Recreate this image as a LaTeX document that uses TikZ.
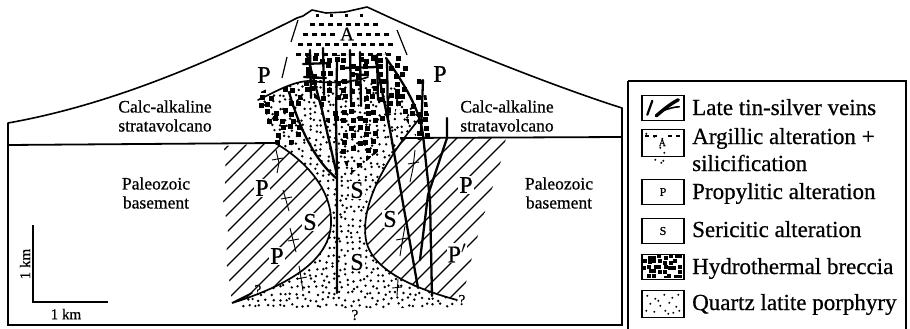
\documentclass[tikz,border=0pt]{standalone}
\usepackage{fontspec}
\setmainfont{Liberation Serif}[FakeBold=0.6]
\begin{document}
\begin{tikzpicture}[x=1pt,y=-1pt,
  outline/.style={line width=1.6pt, line join=round},
  contact/.style={line width=1.8pt},
  vein/.style={line width=2.3pt, line cap=round, line join=round},
  zoneline/.style={line width=1.7pt, line cap=round},
  hatchline/.style={line width=1.1pt},
  tickline/.style={line width=0.9pt},
  lbl/.style={font=\fontsize{24}{24}\selectfont, inner sep=1pt},
  qmark/.style={font=\fontsize{15}{15}\selectfont, inner sep=0pt},
  unit/.style={font=\fontsize{17.5}{19}\selectfont, align=center, inner sep=0pt},
  legtext/.style={font=\fontsize{23}{23}\selectfont, anchor=base west, inner sep=0pt},
  swatch/.style={draw, line width=1.4pt, minimum width=42pt, minimum height=25pt, inner sep=0pt},
]
\useasboundingbox (0,0) rectangle (910,329);
\pgfmathsetseed{7}

% ---------- porphyry stock (dots) ----------
\begin{scope}
  \clip (262,100) .. controls (280,86) and (300,80) .. (330,80)
        .. controls (355,80) and (380,78) .. (395,88) -- (420,118)
        .. controls (385,160) and (360,205) .. (366,240)
        .. controls (372,272) and (420,290) .. (457,300)
        -- (455,308) -- (240,308) -- (232,303)
        .. controls (300,282) and (329,255) .. (331,225)
        .. controls (333,190) and (305,160) .. (275,143) -- cycle;
  \foreach \i in {0,...,38}{
    \foreach \j in {0,...,38}{
      \pgfmathsetmacro{\px}{229+6.2*\i+2.2*rand}
      \pgfmathsetmacro{\py}{76+6.2*\j+2.2*rand}
      \fill (\px,\py) circle[radius=1.35pt];
    }
  }
\end{scope}

% ---------- hydrothermal breccia (squares) ----------
\begin{scope}
  \clip (256,95) .. controls (270,85) and (290,82) .. (300,88) -- (306,110)
        -- (302,140) -- (290,146) -- (277,145) .. controls (265,130) and (258,110) .. cycle
        (298,55) -- (397,55) -- (400,100) -- (380,150) -- (350,175) -- (335,140)
        -- (318,100) -- (300,90) -- cycle
        (385,52) -- (405,56) -- (425,85) -- (432,138) -- (418,140) -- (400,110) -- cycle;
  \foreach \i in {0,...,26}{
    \foreach \j in {0,...,17}{
      \pgfmathsetmacro{\px}{252+7.5*\i+1.8*rand}
      \pgfmathsetmacro{\py}{50+7.5*\j+1.8*rand}
      \pgfmathsetmacro{\keep}{rnd}
      \ifdim\keep pt<0.62pt
        \fill (\px,\py) rectangle ++(5,5);
      \fi
    }
  }
\end{scope}

% ---------- argillic alteration (dashes) ----------
\foreach \yy/\xa/\xb in {24/310/374, 34/303/384, 44/298/388, 54/296/392}{
  \foreach \xx in {\xa,...,\xb}{
    \pgfmathtruncatemacro{\m}{mod(\xx-\xa,9)}
    \ifnum\m=0
      \ifdim\xx pt>338pt \ifdim\xx pt<356pt \ifnum\yy=34 \else
        \fill (\xx,\yy-1.4) rectangle ++(5,3); \fi
      \else \fill (\xx,\yy-1.4) rectangle ++(5,3); \fi
      \else \fill (\xx,\yy-1.4) rectangle ++(5,3); \fi
    \fi
  }
}
\foreach \xx in {316,330,345,360}{ \fill (\xx,14) rectangle ++(3,2.6); }
\draw[line width=1.2pt] (298,20) -- (291,42) (287,57) -- (282,78) (397,30) -- (407,55);

% ---------- propylitic hatching, left ----------
\begin{scope}
  \clip (224,146) -- (275,143) .. controls (305,160) and (333,190) .. (331,225)
        .. controls (329,255) and (300,282) .. (232,303)
        -- (230,285) -- (226,260) -- (228,230) -- (223,200) -- (226,175) -- cycle;
  \foreach \c in {-160,-143,...,560}{
    \draw[hatchline] (\c,330) -- ++(330,-330);
  }
\end{scope}

% ---------- propylitic hatching, right ----------
\begin{scope}
  \clip (0,138) rectangle (910,329);
  \clip (420,118) .. controls (385,160) and (360,205) .. (366,240)
        .. controls (372,272) and (420,290) .. (457,300)
        -- (463,297) -- (470,265) -- (478,235) -- (490,195) -- (500,165)
        -- (506,138) -- (506,100) -- cycle;
  \foreach \c in {-160,-143,...,700}{
    \draw[hatchline] (\c,330) -- ++(330,-330);
  }
\end{scope}

% ---------- outline of volcano and section ----------
\draw[outline] (8,325) -- (8,123) .. controls (110,105) and (210,62) .. (297,18)
  -- (303,16) -- (312,10) -- (326,13) -- (345,12) -- (367,7) -- (378,12)
  .. controls (420,32) and (540,82) .. (622,108) -- (622,325);
\draw[line width=2pt] (7,325) -- (623,325);

% contact between stratavolcano and basement
\draw[contact] (8,145) -- (275,143);
\draw[contact] (400,138) -- (622,137);

% ---------- zone boundaries ----------
\draw[zoneline] (275,143) .. controls (305,160) and (333,190) .. (331,225)
  .. controls (329,255) and (300,282) .. (232,303) -- (252,293);
\draw[zoneline] (420,118) .. controls (385,160) and (360,205) .. (366,240)
  .. controls (372,272) and (420,290) .. (457,300);
\draw[zoneline] (258,100) .. controls (275,92) and (295,80) .. (312,81)
  .. controls (330,84) and (355,82) .. (368,77);

% P/S boundaries with ticks
\draw[tickline] (276,150) -- (279,163) -- (277,173)
  (283,190) -- (286,200) -- (289,211)
  (290,228) -- (293,240) -- (296,252)
  (299,266) -- (301,278) -- (303,291)
  (272,160) -- (283,158) (281,199) -- (292,197) (288,241) -- (299,239) (297,279) -- (307,277);
\draw[tickline] (415,150) -- (413,168) -- (410,182)
  (405,226) -- (402,243) -- (400,256)
  (398,279) -- (397,296)
  (408,164) -- (419,162) (396,240) -- (407,238) (392,288) -- (402,287);

% ---------- late tin-silver veins ----------
\draw[vein] (337,62) -- (336,120) -- (337,175) -- (337,293);
\draw[vein] (307,55) -- (322,110) -- (337,175);
\draw[vein] (289,92) .. controls (300,130) and (315,160) .. (336,178);
\foreach \vx/\va/\vb in {310/50/98, 323/48/95, 350/50/102, 360/52/106, 377/55/100, 387/60/120}{
  \draw[vein] (\vx,\va) -- (\vx+1,\vb);
}
\draw[vein] (303,64) -- (330,63) (342,68) -- (378,67) (304,77) -- (326,78) (352,74) -- (366,75);
\draw[vein] (375,57) -- (390,130) -- (418,288);
\draw[vein] (386,58) .. controls (405,85) and (420,110) .. (423,135) -- (430,200) -- (432,296);
\draw[vein] (423,80) -- (421,133);
\draw[vein] (447,118) -- (447,138) -- (428,195) -- (420,260);

% ---------- labels in the section ----------
\node[unit] (cal) at (165,116) {Calc-alkaline\\stratavolcano};
\node[unit] (car) at (507,116) {Calc-alkaline\\stratavolcano};
\node[unit] (pzl) at (156,193) {Paleozoic\\basement};
\node[unit] (pzr) at (559,193) {Paleozoic\\basement};

\node[lbl] (pa1) at (264,75) {P};
\node[lbl] (pa2) at (440,74) {P};
\node[lbl, font=\fontsize{19}{19}\selectfont, inner sep=0pt] (arg) at (347,34) {A};
\node[lbl, fill=white] (pl1) at (262,188) {P};
\node[lbl, fill=white] (pl2) at (277,256) {P};
\node[lbl, fill=white] (sl) at (310,222) {S};
\node[lbl, fill=white] (sr) at (390,219) {S};
\node[lbl, fill=white] (sc1) at (357,190) {S};
\node[lbl, fill=white] (sc2) at (357,262) {S};
\node[lbl, fill=white] (pr1) at (466,185) {P};
\node[lbl, fill=white] (pr2) at (457,253) {P$'$};
\node[qmark] (q1) at (258,290) {?};
\node[qmark] (q2) at (355,315) {?};
\node[qmark] (q3) at (462,300) {?};

% ---------- scale bar ----------
\coordinate (sbt) at (33,225);
\coordinate (sbo) at (33,302);
\coordinate (sbr) at (108,302);
\draw[line width=1.4pt] (sbt) -- (sbo) -- (sbr);
\node[font=\fontsize{15}{15}\selectfont, rotate=90, inner sep=0pt] (kmv) at (25,264) {1 km};
\node[font=\fontsize{15}{15}\selectfont, inner sep=0pt] (kmh) at (66,314) {1 km};

% ---------- legend ----------
\draw[line width=1.6pt] (628,81) -- (628,340) (628,81) -- (906,81) -- (906,340);

\node[swatch] (sw1) at (663,108) {};
\node[swatch, minimum height=27pt] (sw2) at (663,143) {};
\node[swatch, font=\fontsize{12}{12}\selectfont] (sw3) at (663,192) {P};
\node[swatch, font=\fontsize{12}{12}\selectfont] (sw4) at (663,231) {S};
\node[swatch] (sw5) at (663,267) {};
\node[swatch, minimum height=27pt] (sw6) at (663,304) {};

\begin{scope}[shift={(sw1.north west)}]
  \draw[line width=2.2pt, line cap=round] (6,20) -- (11,6);
  \draw[line width=3.4pt, line cap=round] (15,21) .. controls (22,15) and (29,9) .. (37,5);
  \draw[line width=1.6pt, line cap=round] (21,16) .. controls (27,14) and (33,12) .. (38,12);
\end{scope}

\begin{scope}[shift={(sw2.north west)}]
  \foreach \dx in {4,12,27,35}{ \fill (\dx,6) rectangle ++(4,2); }
  \foreach \dx/\dy in {5,13/8,20/34,14/31,21/10,22/32,23/24,19}{ \fill (\dx,\dy) circle[radius=1.1pt]; }
  \node[font=\fontsize{10}{10}\selectfont, inner sep=0pt] (swa) at (21,14) {A};
\end{scope}

\begin{scope}[shift={(sw5.north west)}]
  \clip (1,1) rectangle (41,24);
  \foreach \i in {0,...,7}{
    \foreach \j in {0,...,4}{
      \pgfmathsetmacro{\px}{1+5.2*\i+1.2*rand}
      \pgfmathsetmacro{\py}{1+5*\j+1.2*rand}
      \pgfmathsetmacro{\keep}{rnd}
      \ifdim\keep pt<0.72pt \fill (\px,\py) rectangle ++(4,4); \fi
    }
  }
\end{scope}

\begin{scope}[shift={(sw6.north west)}]
  \foreach \dx/\dy in {6/6,14/9,23/5,31/8,37/5,9/14,19/16,28/13,35/17,5/21,13/22,24/21,32/23,38/21,17/11,27/24}{
    \fill (\dx,\dy) circle[radius=1.1pt];
  }
\end{scope}

\node[legtext] (t1) at (692,115) {Late tin-silver veins};
\node[legtext] (t2) at (692,144) {Argillic alteration +};
\node[legtext] (t2b) at (692,171) {silicification};
\node[legtext] (t3) at (692,199) {Propylitic alteration};
\node[legtext] (t4) at (692,237) {Sericitic alteration};
\node[legtext] (t5) at (692,274) {Hydrothermal breccia};
\node[legtext] (t6) at (692,310) {Quartz latite porphyry};
\end{tikzpicture}
\end{document}
